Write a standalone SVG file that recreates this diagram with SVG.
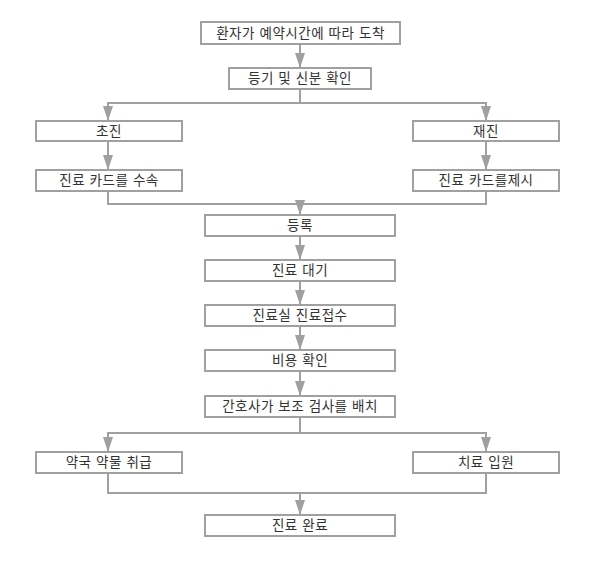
<svg xmlns="http://www.w3.org/2000/svg" width="600" height="561" viewBox="0 0 600 561">
<defs>
<marker id="arr" viewBox="0 0 10 15" markerWidth="10" markerHeight="15" refX="5" refY="15" orient="0" markerUnits="userSpaceOnUse">
<path d="M0,0 L10,0 L5,15 z" fill="#a0a0a0"/>
</marker>
<style>
.box{fill:#ffffff;stroke:#a0a0a0;stroke-width:2}
.lbl{font-family:"Noto Sans CJK KR","Noto Sans",sans-serif;font-size:13.5px;fill:#333333;text-anchor:middle;letter-spacing:0.5px;word-spacing:1px}
.con{fill:none;stroke:#a0a0a0;stroke-width:2}
.arr{marker-end:url(#arr)}
</style>
</defs>
<rect width="600" height="561" fill="#ffffff"/>
<g id="connectors">
<path class="con arr" d="M300,44 V68"/>
<path class="con arr" d="M300,89 V103 H108 V121"/>
<path class="con arr" d="M300,103 H486 V121"/>
<path class="con arr" d="M108,141 V170"/>
<path class="con arr" d="M486,141 V170"/>
<path class="con arr" d="M108,191 V204 H300 V215"/>
<path class="con" d="M486,191 V204 H300"/>
<path class="con arr" d="M300,236 V260"/>
<path class="con arr" d="M300,281 V305"/>
<path class="con arr" d="M300,326 V350"/>
<path class="con arr" d="M300,371 V396"/>
<path class="con arr" d="M300,417 V433 H108 V452"/>
<path class="con arr" d="M300,433 H486 V452"/>
<path class="con arr" d="M108,473 V493 H300 V515"/>
<path class="con" d="M486,473 V493 H300"/>
</g>
<g id="n1"><rect class="box" x="201" y="22" width="199" height="22"/><text class="lbl" x="300.5" y="38">환자가 예약시간에 따라 도착</text></g>
<g id="n2"><rect class="box" x="229" y="68" width="142" height="21"/><text class="lbl" x="300" y="83">등기 및 신분 확인</text></g>
<g id="n3"><rect class="box" x="36" y="121" width="146" height="20"/><text class="lbl" x="109" y="136">초진</text></g>
<g id="n4"><rect class="box" x="413" y="121" width="146" height="20"/><text class="lbl" x="486" y="136">재진</text></g>
<g id="n5"><rect class="box" x="36" y="170" width="146" height="21"/><text class="lbl" x="109" y="185">진료 카드를 수속</text></g>
<g id="n6"><rect class="box" x="413" y="170" width="146" height="21"/><text class="lbl" x="486" y="185">진료 카드를제시</text></g>
<g id="n7"><rect class="box" x="205" y="215" width="190" height="21"/><text class="lbl" x="300" y="230">등록</text></g>
<g id="n8"><rect class="box" x="205" y="260" width="190" height="21"/><text class="lbl" x="300" y="275">진료 대기</text></g>
<g id="n9"><rect class="box" x="205" y="305" width="190" height="21"/><text class="lbl" x="300" y="320">진료실 진료접수</text></g>
<g id="n10"><rect class="box" x="205" y="350" width="190" height="21"/><text class="lbl" x="300" y="365">비용 확인</text></g>
<g id="n11"><rect class="box" x="205" y="396" width="190" height="21"/><text class="lbl" x="300" y="411">간호사가 보조 검사를 배치</text></g>
<g id="n12"><rect class="box" x="36" y="452" width="146" height="21"/><text class="lbl" x="109" y="467">약국 약물 취급</text></g>
<g id="n13"><rect class="box" x="413" y="452" width="146" height="21"/><text class="lbl" x="486" y="467">치료 입원</text></g>
<g id="n14"><rect class="box" x="205" y="515" width="190" height="21"/><text class="lbl" x="300" y="530">진료 완료</text></g>
</svg>
